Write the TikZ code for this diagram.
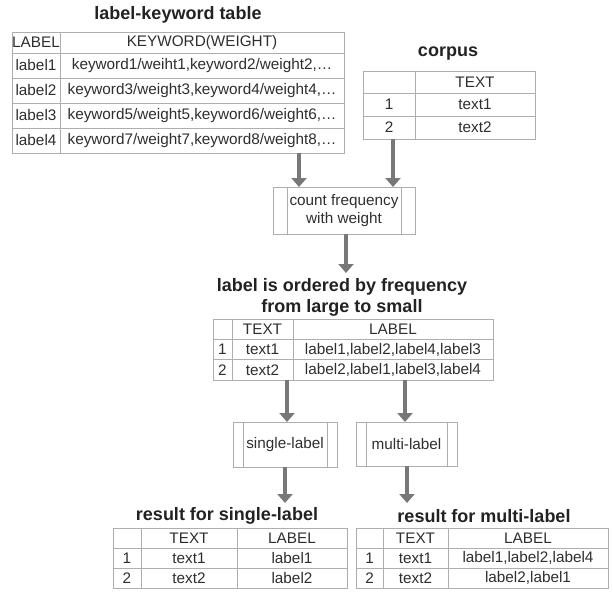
\documentclass[tikz,border=0pt]{standalone}
\usepackage{fontspec}
\setmainfont{Liberation Sans}
\usetikzlibrary{arrows.meta,calc}
\definecolor{linegray}{HTML}{AEAEAE}
\definecolor{textgray}{HTML}{2E2E2E}
\definecolor{titlegray}{HTML}{222222}
\definecolor{arrowgray}{HTML}{787878}
\begin{document}
\begin{tikzpicture}[x=1pt,y=-1pt,
  gridline/.style={draw=linegray, line width=0.9pt},
  frame/.style={draw=linegray, line width=0.9pt, rectangle, inner sep=0pt, outer sep=0pt, anchor=north west},
  cell/.style={text=textgray, font=\fontsize{15.3}{17.5}\selectfont, inner sep=0pt},
  ttl/.style={text=titlegray, font=\fontsize{18}{21}\selectfont\bfseries, align=center, inner sep=0pt},
  proc/.style={draw=linegray, line width=0.9pt, rectangle, inner sep=0pt, outer sep=0pt, anchor=north west},
  ptext/.style={text=textgray, font=\fontsize{15.3}{17.5}\selectfont, align=center, inner sep=0pt},
  arr/.style={draw=arrowgray, line width=4pt, -{Triangle[width=15pt,length=9pt]}}]
\useasboundingbox (0,0) rectangle (613,592);

% ---------- label-keyword table ----------
\node[ttl] (kwtitle) at (178,15) {label-keyword table};
\node[frame, minimum width=332pt, minimum height=121pt] (kw) at (12,32) {};
\draw[gridline] (60,32) -- (60,153);
\foreach \yy in {53,78,103,128} \draw[gridline] (12,\yy) -- (344,\yy);
\node[cell] (kwa0) at (36,42.5) {LABEL};
\node[cell] (kwb0) at (202,42.5) {KEYWORD(WEIGHT)};
\node[cell] (kwa1) at (36,65.5) {label1};
\node[cell] (kwb1) at (202,65.5) {keyword1/weiht1,keyword2/weight2,…};
\node[cell] (kwa2) at (36,90.5) {label2};
\node[cell] (kwb2) at (202,90.5) {keyword3/weight3,keyword4/weight4,…};
\node[cell] (kwa3) at (36,115.5) {label3};
\node[cell] (kwb3) at (202,115.5) {keyword5/weight5,keyword6/weight6,…};
\node[cell] (kwa4) at (36,140.5) {label4};
\node[cell] (kwb4) at (202,140.5) {keyword7/weight7,keyword8/weight8,…};

% ---------- corpus ----------
\node[ttl] (cptitle) at (448,54) {corpus};
\node[frame, minimum width=172pt, minimum height=68pt] (cp) at (363,71) {};
\draw[gridline] (415,71) -- (415,139);
\foreach \yy in {93,116} \draw[gridline] (363,\yy) -- (535,\yy);
\node[cell] (cpb0) at (475,82) {TEXT};
\node[cell] (cpa1) at (389,104.5) {1};
\node[cell] (cpb1) at (475,104.5) {text1};
\node[cell] (cpa2) at (389,127.5) {2};
\node[cell] (cpb2) at (475,127.5) {text2};

% ---------- count frequency ----------
\node[proc, minimum width=142pt, minimum height=47pt] (cf) at (273,187) {};
\draw[gridline] (287,187) -- (287,234);
\draw[gridline] (401,187) -- (401,234);
\node[ptext] (cftext) at (344,210.5) {count frequency\\with weight};

% ---------- ordered table ----------
\node[ttl] (ortitle) at (342,297.5) {label is ordered by frequency\\from large to small};
\node[frame, minimum width=280pt, minimum height=61pt] (or) at (213,319) {};
\draw[gridline] (232,319) -- (232,380);
\draw[gridline] (293,319) -- (293,380);
\foreach \yy in {339,359.5} \draw[gridline] (213,\yy) -- (493,\yy);
\node[cell] (orb0) at (262.5,329) {TEXT};
\node[cell] (orc0) at (393,329) {LABEL};
\node[cell] (ora1) at (222.5,349.5) {1};
\node[cell] (orb1) at (262.5,349.5) {text1};
\node[cell] (orc1) at (393,349.5) {label1,label2,label4,label3};
\node[cell] (ora2) at (222.5,370) {2};
\node[cell] (orb2) at (262.5,370) {text2};
\node[cell] (orc2) at (393,370) {label2,label1,label3,label4};

% ---------- single / multi boxes ----------
\node[proc, minimum width=104pt, minimum height=45pt] (sl) at (233,422) {};
\draw[gridline] (243,422) -- (243,467);
\draw[gridline] (327,422) -- (327,467);
\node[ptext] (sltext) at (285,444.5) {single-label};

\node[proc, minimum width=101pt, minimum height=44pt] (ml) at (356,422) {};
\draw[gridline] (366,422) -- (366,466);
\draw[gridline] (447,422) -- (447,466);
\node[ptext] (mltext) at (406.5,444) {multi-label};

% ---------- result single ----------
\node[ttl] (rstitle) at (227,516) {result for single-label};
\node[frame, minimum width=234pt, minimum height=60pt] (rs) at (113,528) {};
\draw[gridline] (141,528) -- (141,588);
\draw[gridline] (237,528) -- (237,588);
\foreach \yy in {548,568} \draw[gridline] (113,\yy) -- (347,\yy);
\node[cell] (rsb0) at (189,538) {TEXT};
\node[cell] (rsc0) at (292,538) {LABEL};
\node[cell] (rsa1) at (127,558) {1};
\node[cell] (rsb1) at (189,558) {text1};
\node[cell] (rsc1) at (292,558) {label1};
\node[cell] (rsa2) at (127,578) {2};
\node[cell] (rsb2) at (189,578) {text2};
\node[cell] (rsc2) at (292,578) {label2};

% ---------- result multi ----------
\node[ttl] (rmtitle) at (484,516) {result for multi-label};
\node[frame, minimum width=252pt, minimum height=60pt] (rm) at (356,528) {};
\draw[gridline] (383,528) -- (383,588);
\draw[gridline] (448,528) -- (448,588);
\foreach \yy in {548,568} \draw[gridline] (356,\yy) -- (608,\yy);
\node[cell] (rmb0) at (415.5,538) {TEXT};
\node[cell] (rmc0) at (528,538) {LABEL};
\node[cell] (rma1) at (369.5,558) {1};
\node[cell] (rmb1) at (415.5,558) {text1};
\node[cell] (rmc1) at (528,558) {label1,label2,label4};
\node[cell] (rma2) at (369.5,578) {2};
\node[cell] (rmb2) at (415.5,578) {text2};
\node[cell] (rmc2) at (528,578) {label2,label1};

% ---------- arrows ----------
\coordinate (x1) at (299,0);
\coordinate (x2) at (393,0);
\coordinate (x4) at (287,0);
\coordinate (x5) at (405,0);
\coordinate (a3end) at (346,273);
\coordinate (a6end) at (285,503);
\coordinate (a7end) at (407,503);
\draw[arr] (kw.south -| x1) -- (cf.north -| x1);
\draw[arr] (cp.south -| x2) -- (cf.north -| x2);
\draw[arr] (cf.south -| a3end) -- (a3end);
\draw[arr] (or.south -| x4) -- (sl.north -| x4);
\draw[arr] (or.south -| x5) -- (ml.north -| x5);
\draw[arr] (sl.south -| a6end) -- (a6end);
\draw[arr] (ml.south -| a7end) -- (a7end);
\end{tikzpicture}
\end{document}
